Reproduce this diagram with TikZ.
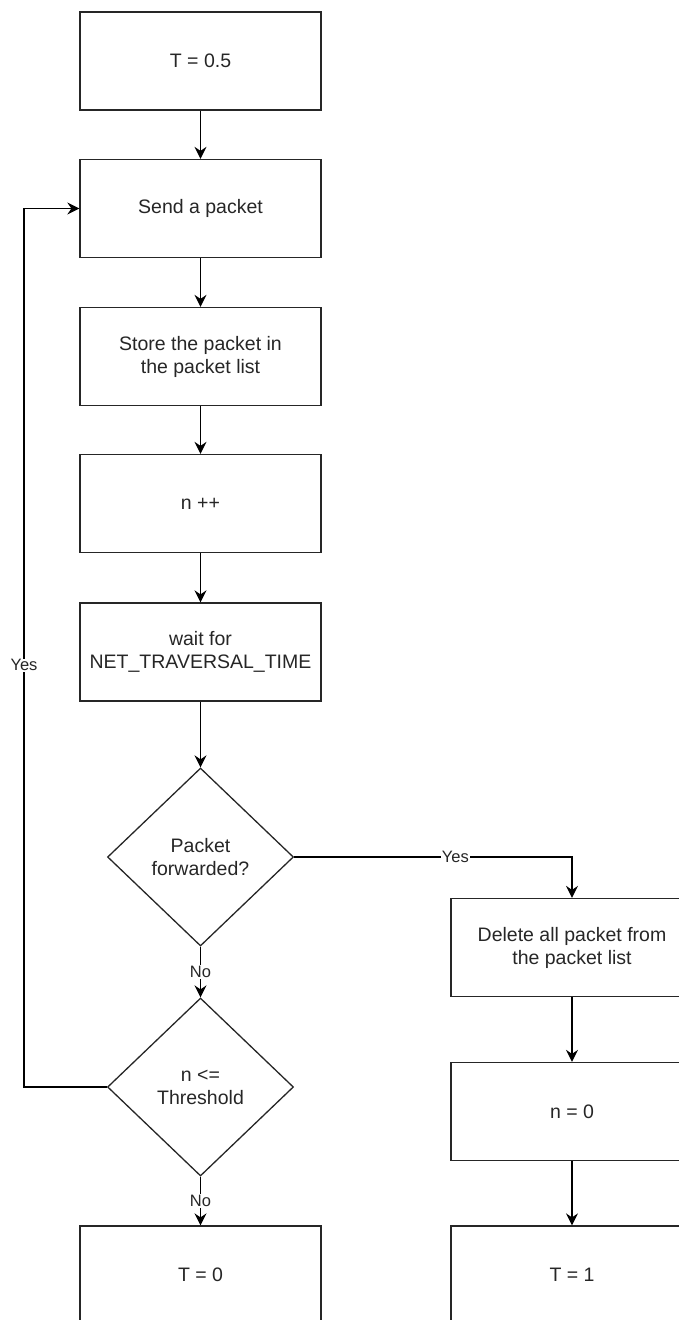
\documentclass[tikz,border=0pt]{standalone}
\usepackage{fontspec}
\setmainfont{Liberation Sans}
\usetikzlibrary{shapes.geometric,arrows.meta}
\begin{document}
\begin{tikzpicture}[x=1pt,y=-1pt,
  every node/.style={text=black!85},
  procbox/.style={draw=black!85,line width=1.3pt,rectangle,minimum width=241pt,minimum height=98pt,inner sep=0pt,align=center,font=\fontsize{19.5}{23}\selectfont},
  decbox/.style={draw=black!85,line width=1.3pt,diamond,minimum width=186pt,minimum height=178pt,inner sep=0pt,align=center,font=\fontsize{19.5}{23}\selectfont},
  arr/.style={draw=black,line width=1.3pt,-{Stealth[length=12pt,width=12pt,inset=4pt]}},
  lbl/.style={fill=white,inner sep=1pt,font=\fontsize{16.5}{19}\selectfont}]
\useasboundingbox (0,0) rectangle (679,1320);
\node[procbox] (t05) at (200.5,61) {T = 0.5};
\node[procbox] (send) at (200.5,208.5) {Send a packet};
\node[procbox] (store) at (200.5,356.5) {Store the packet in\\the packet list};
\node[procbox] (ninc) at (200.5,503.5) {n ++};
\node[procbox] (wait) at (200.5,652) {wait for\\NET\_TRAVERSAL\_TIME};
\node[decbox] (d1) at (200.5,857) {Packet\\forwarded?};
\node[decbox] (d2) at (200.5,1087) {n <=\\Threshold};
\node[procbox] (t0) at (200.5,1275) {T = 0};
\node[procbox,minimum width=242pt] (del) at (572,947.5) {Delete all packet from\\the packet list};
\node[procbox,minimum width=242pt] (n0) at (572,1111.5) {n = 0};
\node[procbox,minimum width=242pt] (t1) at (572,1275) {T = 1};
\coordinate (lc) at (24,1087);
\draw[arr] (t05) -- (send);
\draw[arr] (send) -- (store);
\draw[arr] (store) -- (ninc);
\draw[arr] (ninc) -- (wait);
\draw[arr] (wait) -- (d1);
\draw[arr] (d1.south) -- node[lbl]{No} (d2.north);
\draw[arr] (d2.south) -- node[lbl]{No} (t0.north);
\draw[arr] (d2.west) -- (lc) |- node[pos=0.24,lbl]{Yes} (send.west);
\draw[arr] (d1.east) -| node[pos=0.29,lbl]{Yes} (del.north);
\draw[arr] (del) -- (n0);
\draw[arr] (n0) -- (t1);
\end{tikzpicture}
\end{document}
